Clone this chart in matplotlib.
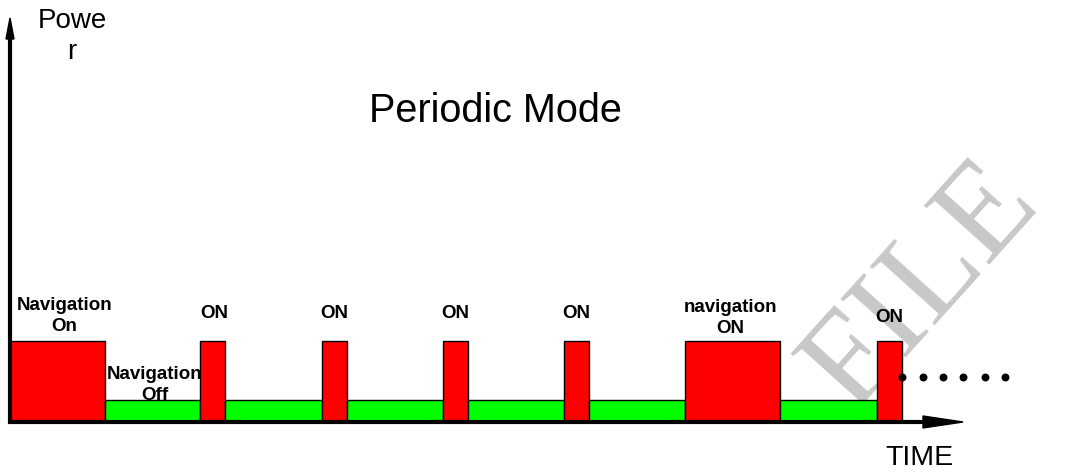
import matplotlib.pyplot as plt
import numpy as np

plt.rcParams['font.family'] = ['Liberation Sans', 'DejaVu Sans']

# segment durations along the time axis and their state (1 = on, 0 = off)
durations = [95, 95, 25, 97, 25, 96, 25, 96, 25, 96, 95, 97, 25]
states = [1, 0, 1, 0, 1, 0, 1, 0, 1, 0, 1, 0, 1]
power_on = 81
power_off = 22

# labels above the blocks
on_labels = ['Navigation\nOn', 'ON', 'ON', 'ON', 'ON', 'navigation\nON', 'ON']
on_label_dx = [7, 2, 0, 0, 0, -2, 0]
on_label_h = [106, 109, 109, 109, 109, 104, 104]
off_label = 'Navigation\nOff'

# continuation dots
dots_t = [892, 913, 933, 953, 975, 995]
dots_h = 45

edges = np.concatenate([[0], np.cumsum(durations)])

fig = plt.figure(figsize=(10.70, 4.73), dpi=100)
ax = fig.add_axes([0, 0, 1, 1])
ax.set_xlim(-10, 1060)
ax.set_ylim(-51, 422)
ax.axis('off')

# faint watermark
ax.text(912, 135, 'FILE', rotation=48, fontsize=96, color='#c8c8c8',
        family='Liberation Serif', ha='center', va='center', zorder=0)

red = '#ff0000'
green = '#00ff00'
for i in range(len(durations)):
    h = power_on if states[i] else power_off
    ax.bar(edges[i], h, width=durations[i], align='edge', bottom=0,
           color=red if states[i] else green, edgecolor='black',
           linewidth=1, zorder=3)

# on labels
k = 0
for i in range(len(durations)):
    if states[i]:
        xc = edges[i] + durations[i] / 2 + on_label_dx[k]
        ax.text(xc, on_label_h[k], on_labels[k], ha='center', va='center',
                fontsize=13.5, fontweight='bold', linespacing=1.3, zorder=4)
        k += 1

# off label (partly hidden behind the blocks)
ax.text(edges[1] + durations[1] / 2 + 2, 37, off_label, ha='center',
        va='center', fontsize=13.5, fontweight='bold', linespacing=1.3,
        zorder=2)

ax.scatter(dots_t, [dots_h] * len(dots_t), s=22, color='black', zorder=5)

# axes with arrow heads
ax.plot([-2, 915], [0, 0], color='black', lw=3, solid_capstyle='butt', zorder=6)
ax.fill([913, 953, 913], [6, 0, -6], color='black', zorder=6)
ax.plot([0, 0], [-2, 385], color='black', lw=3, solid_capstyle='butt', zorder=6)
ax.fill([-4, 0, 4], [383, 404, 383], color='black', zorder=6)

ax.text(62, 385, 'Powe\nr', ha='center', va='center', fontsize=20,
        linespacing=1.25)
ax.text(485, 311, 'Periodic Mode', ha='center', va='center', fontsize=28.5)
ax.text(909, -36, 'TIME', ha='center', va='center', fontsize=20.5)

fig.savefig('out.png', dpi=100)
